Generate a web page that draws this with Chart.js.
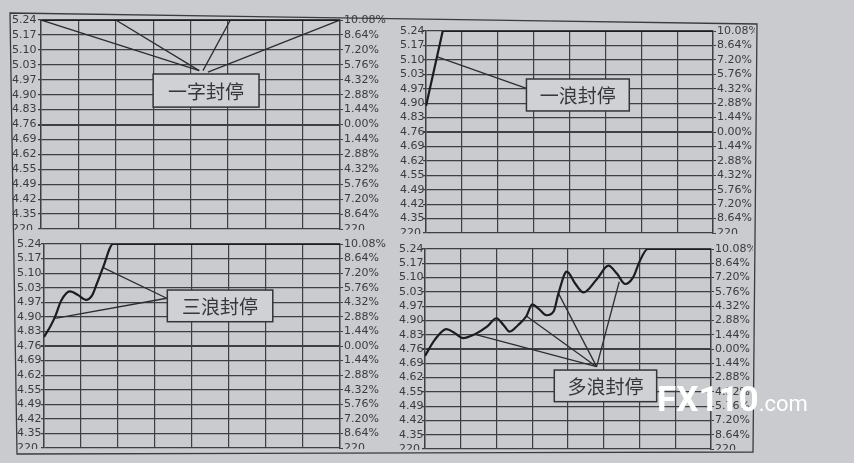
<!DOCTYPE html>
<html>
<head>
<meta charset="utf-8">
<script src="https://cdn.jsdelivr.net/npm/chart.js@4.4.0/dist/chart.umd.min.js"></script>
<style>
html, body { margin: 0; padding: 0; }
body { width: 854px; height: 463px; background: #cacbcf; position: relative; overflow: hidden; }
.panel { position: absolute; overflow: hidden; }
.panel canvas { position: absolute; left: 0; top: 0; }
#frame { position: absolute; left: 0; top: 0; }
.mark { position: absolute; color: #fff; white-space: nowrap; line-height: 1; }
</style>
</head>
<body>
<svg id="frame" width="854" height="463"><polygon points="10,13 757,24 753,452 17,454" fill="none" stroke="#3a3b40" stroke-width="1.3"/></svg>
<div class="panel" id="p1"><canvas></canvas></div>
<div class="panel" id="p2"><canvas></canvas></div>
<div class="panel" id="p3"><canvas></canvas></div>
<div class="panel" id="p4"><canvas></canvas></div>
<div class="mark" style="left:657px;top:379px;"><span style="font:bold 35px Roboto, sans-serif;">FX110</span><span style="font:22px Roboto, sans-serif;">.com</span></div>
<script>
// 纵轴刻度 (涨跌幅 %)
const pctTicks = [10.08, 8.64, 7.20, 5.76, 4.32, 2.88, 1.44, 0, -1.44, -2.88, -4.32, -5.76, -7.20, -8.64, -10.08];
const priceLabels = ['5.24', '5.17', '5.10', '5.03', '4.97', '4.90', '4.83', '4.76', '4.69', '4.62', '4.55', '4.49', '4.42', '4.35', '220'];
const pctLabels = ['10.08%', '8.64%', '7.20%', '5.76%', '4.32%', '2.88%', '1.44%', '0.00%', '1.44%', '2.88%', '4.32%', '5.76%', '7.20%', '8.64%', '220'];
const timeTicks = [0, 30, 60, 90, 120, 150, 180, 210, 240];

// 一字封停
const oneWordTime = [0, 240];
const oneWordPct = [10.08, 10.08];
// 一浪封停
const oneWaveTime = [0, 14, 240];
const oneWavePct = [2.6, 10.08, 10.08];
// 三浪封停
const threeWaveTime = [0, 5, 9, 14, 21, 28, 34, 39, 43, 48, 56, 240];
const threeWavePct = [0.9, 1.9, 2.9, 4.5, 5.4, 5.0, 4.55, 5.0, 6.2, 7.8, 10.08, 10.08];
// 多浪封停
const multiWaveTime = [0, 8, 18, 25, 32, 42, 52, 60, 66, 71, 78, 85, 90, 95, 102, 108, 112, 119, 126, 133, 144, 154, 161, 168, 175, 180, 187, 240];
const multiWavePct = [-0.7, 0.9, 2.0, 1.6, 1.1, 1.5, 2.25, 3.1, 2.4, 1.75, 2.4, 3.3, 4.5, 4.1, 3.4, 3.8, 5.6, 7.8, 6.6, 5.7, 7.0, 8.4, 7.6, 6.55, 7.3, 8.8, 10.08, 10.08];

// 指示线: [时间1, 涨幅1, 时间2, 涨幅2]
const oneWordArrows = [[0, 10.08, 127, 5.2], [60, 10.08, 127, 5.2], [152, 10.08, 130, 5.2], [240, 10.08, 134, 5.05]];
const oneWaveArrows = [[9.5, 7.5, 84, 4.36]];
const threeWaveArrows = [[48, 7.74, 99.5, 4.72], [9, 2.74, 99.5, 4.72]];
const multiWaveArrows = [[42, 1.48, 144, -1.78], [85, 3.33, 144, -1.78], [112, 5.61, 144, -1.78], [163, 6.78, 144, -1.78]];

// 标注框: [起始时间, 结束时间, 上沿, 下沿, 文字]
const oneWordBox = [90, 175, 4.87, 1.68, '一字封停'];
const oneWaveBox = [84, 170, 5.29, 2.1, '一浪封停'];
const threeWaveBox = [100, 185.5, 5.53, 2.4, '三浪封停'];
const multiWaveBox = [108.5, 194.4, -2.12, -5.31, '多浪封停'];

const gridColor = '#3e3f44';
const textColor = '#3a3b40';
const tickFont = { family: 'DejaVu Sans', size: 11 };

// 画标注框
const boxPlugin = {
    id: 'labelBox',
    afterDatasetsDraw(chart, args, opts) {
        const b = opts.box;
        if (!b) return;
        const xs = chart.scales.x, ys = chart.scales.y;
        const l = xs.getPixelForValue(b[0]), r = xs.getPixelForValue(b[1]);
        const t = ys.getPixelForValue(b[2]), bt = ys.getPixelForValue(b[3]);
        const c = chart.ctx;
        c.save();
        c.fillStyle = '#d0d1d4';
        c.fillRect(l, t, r - l, bt - t);
        c.strokeStyle = '#333438';
        c.lineWidth = 1.5;
        c.strokeRect(l, t, r - l, bt - t);
        c.fillStyle = '#36373b';
        c.font = '19px "Noto Sans CJK SC"';
        c.textAlign = 'center';
        c.textBaseline = 'middle';
        c.fillText(b[4], (l + r) / 2, (t + bt) / 2 + 1);
        c.restore();
    }
};

function yTicks(s) {
    s.ticks = pctTicks.slice().reverse().map(v => ({ value: v }));
}

function makePanel(id, g, times, values, smooth, arrows, box) {
    const wrap = document.getElementById(id);
    const canvas = wrap.querySelector('canvas');
    const w = g.right - g.left + g.lw + g.rw;
    const h = g.bottom - g.top + 16;
    wrap.style.left = (g.left - g.lw) + 'px';
    wrap.style.top = (g.top - 8) + 'px';
    wrap.style.width = w + 'px';
    // 底部 "220" 只露出上半截
    wrap.style.height = (g.bottom - g.top + 8 + 1) + 'px';
    canvas.width = w;
    canvas.height = h;

    const datasets = [{
        data: times.map((t, i) => ({ x: t, y: values[i] })),
        borderColor: '#1c1c20',
        borderWidth: 2.2,
        pointRadius: 0,
        cubicInterpolationMode: smooth ? 'monotone' : 'default',
        tension: 0
    }];
    arrows.forEach(a => {
        datasets.push({
            data: [{ x: a[0], y: a[1] }, { x: a[2], y: a[3] }],
            borderColor: '#2c2d31',
            borderWidth: 1.3,
            pointRadius: 0
        });
    });

    const n = priceLabels.length;
    new Chart(canvas, {
        type: 'line',
        data: { datasets: datasets },
        options: {
            responsive: false,
            animation: false,
            events: [],
            layout: { padding: { top: 8, bottom: 8, left: 0, right: 0 } },
            plugins: { legend: { display: false }, tooltip: { enabled: false }, labelBox: { box: box } },
            scales: {
                x: {
                    type: 'linear', min: 0, max: 240,
                    afterBuildTicks: s => { s.ticks = timeTicks.map(v => ({ value: v })); },
                    afterFit: s => { s.height = 0; },
                    ticks: { display: false },
                    grid: { color: gridColor, lineWidth: 1.2, drawTicks: false },
                    border: { display: false }
                },
                y: {
                    position: 'left', min: -10.08, max: 10.08,
                    afterBuildTicks: yTicks,
                    afterFit: s => { s.width = g.lw; },
                    ticks: {
                        autoSkip: false, crossAlign: 'far', padding: 0,
                        color: textColor, font: tickFont,
                        callback: (v, i) => priceLabels[n - 1 - i]
                    },
                    grid: {
                        color: gridColor, tickLength: 3,
                        lineWidth: ctx => (ctx.tick && ctx.tick.value === 0 ? 2 : 1.2)
                    },
                    border: { color: gridColor, width: 1.4 }
                },
                y2: {
                    position: 'right', min: -10.08, max: 10.08,
                    afterBuildTicks: yTicks,
                    afterFit: s => { s.width = g.rw; },
                    ticks: {
                        autoSkip: false, padding: 1,
                        color: textColor, font: tickFont,
                        callback: (v, i) => pctLabels[n - 1 - i]
                    },
                    grid: { drawOnChartArea: false, color: gridColor, tickLength: 3 },
                    border: { color: gridColor, width: 1.4 }
                }
            }
        },
        plugins: [boxPlugin]
    });
}

makePanel('p1', { left: 41, right: 340, top: 20, bottom: 229, lw: 29, rw: 58 }, oneWordTime, oneWordPct, false, oneWordArrows, oneWordBox);
makePanel('p2', { left: 426, right: 713, top: 31, bottom: 233, lw: 26, rw: 42 }, oneWaveTime, oneWavePct, false, oneWaveArrows, oneWaveBox);
makePanel('p3', { left: 44, right: 340, top: 244, bottom: 448, lw: 27, rw: 56 }, threeWaveTime, threeWavePct, true, threeWaveArrows, threeWaveBox);
makePanel('p4', { left: 425, right: 711, top: 249, bottom: 449, lw: 26, rw: 42 }, multiWaveTime, multiWavePct, true, multiWaveArrows, multiWaveBox);
</script>
</body>
</html>
